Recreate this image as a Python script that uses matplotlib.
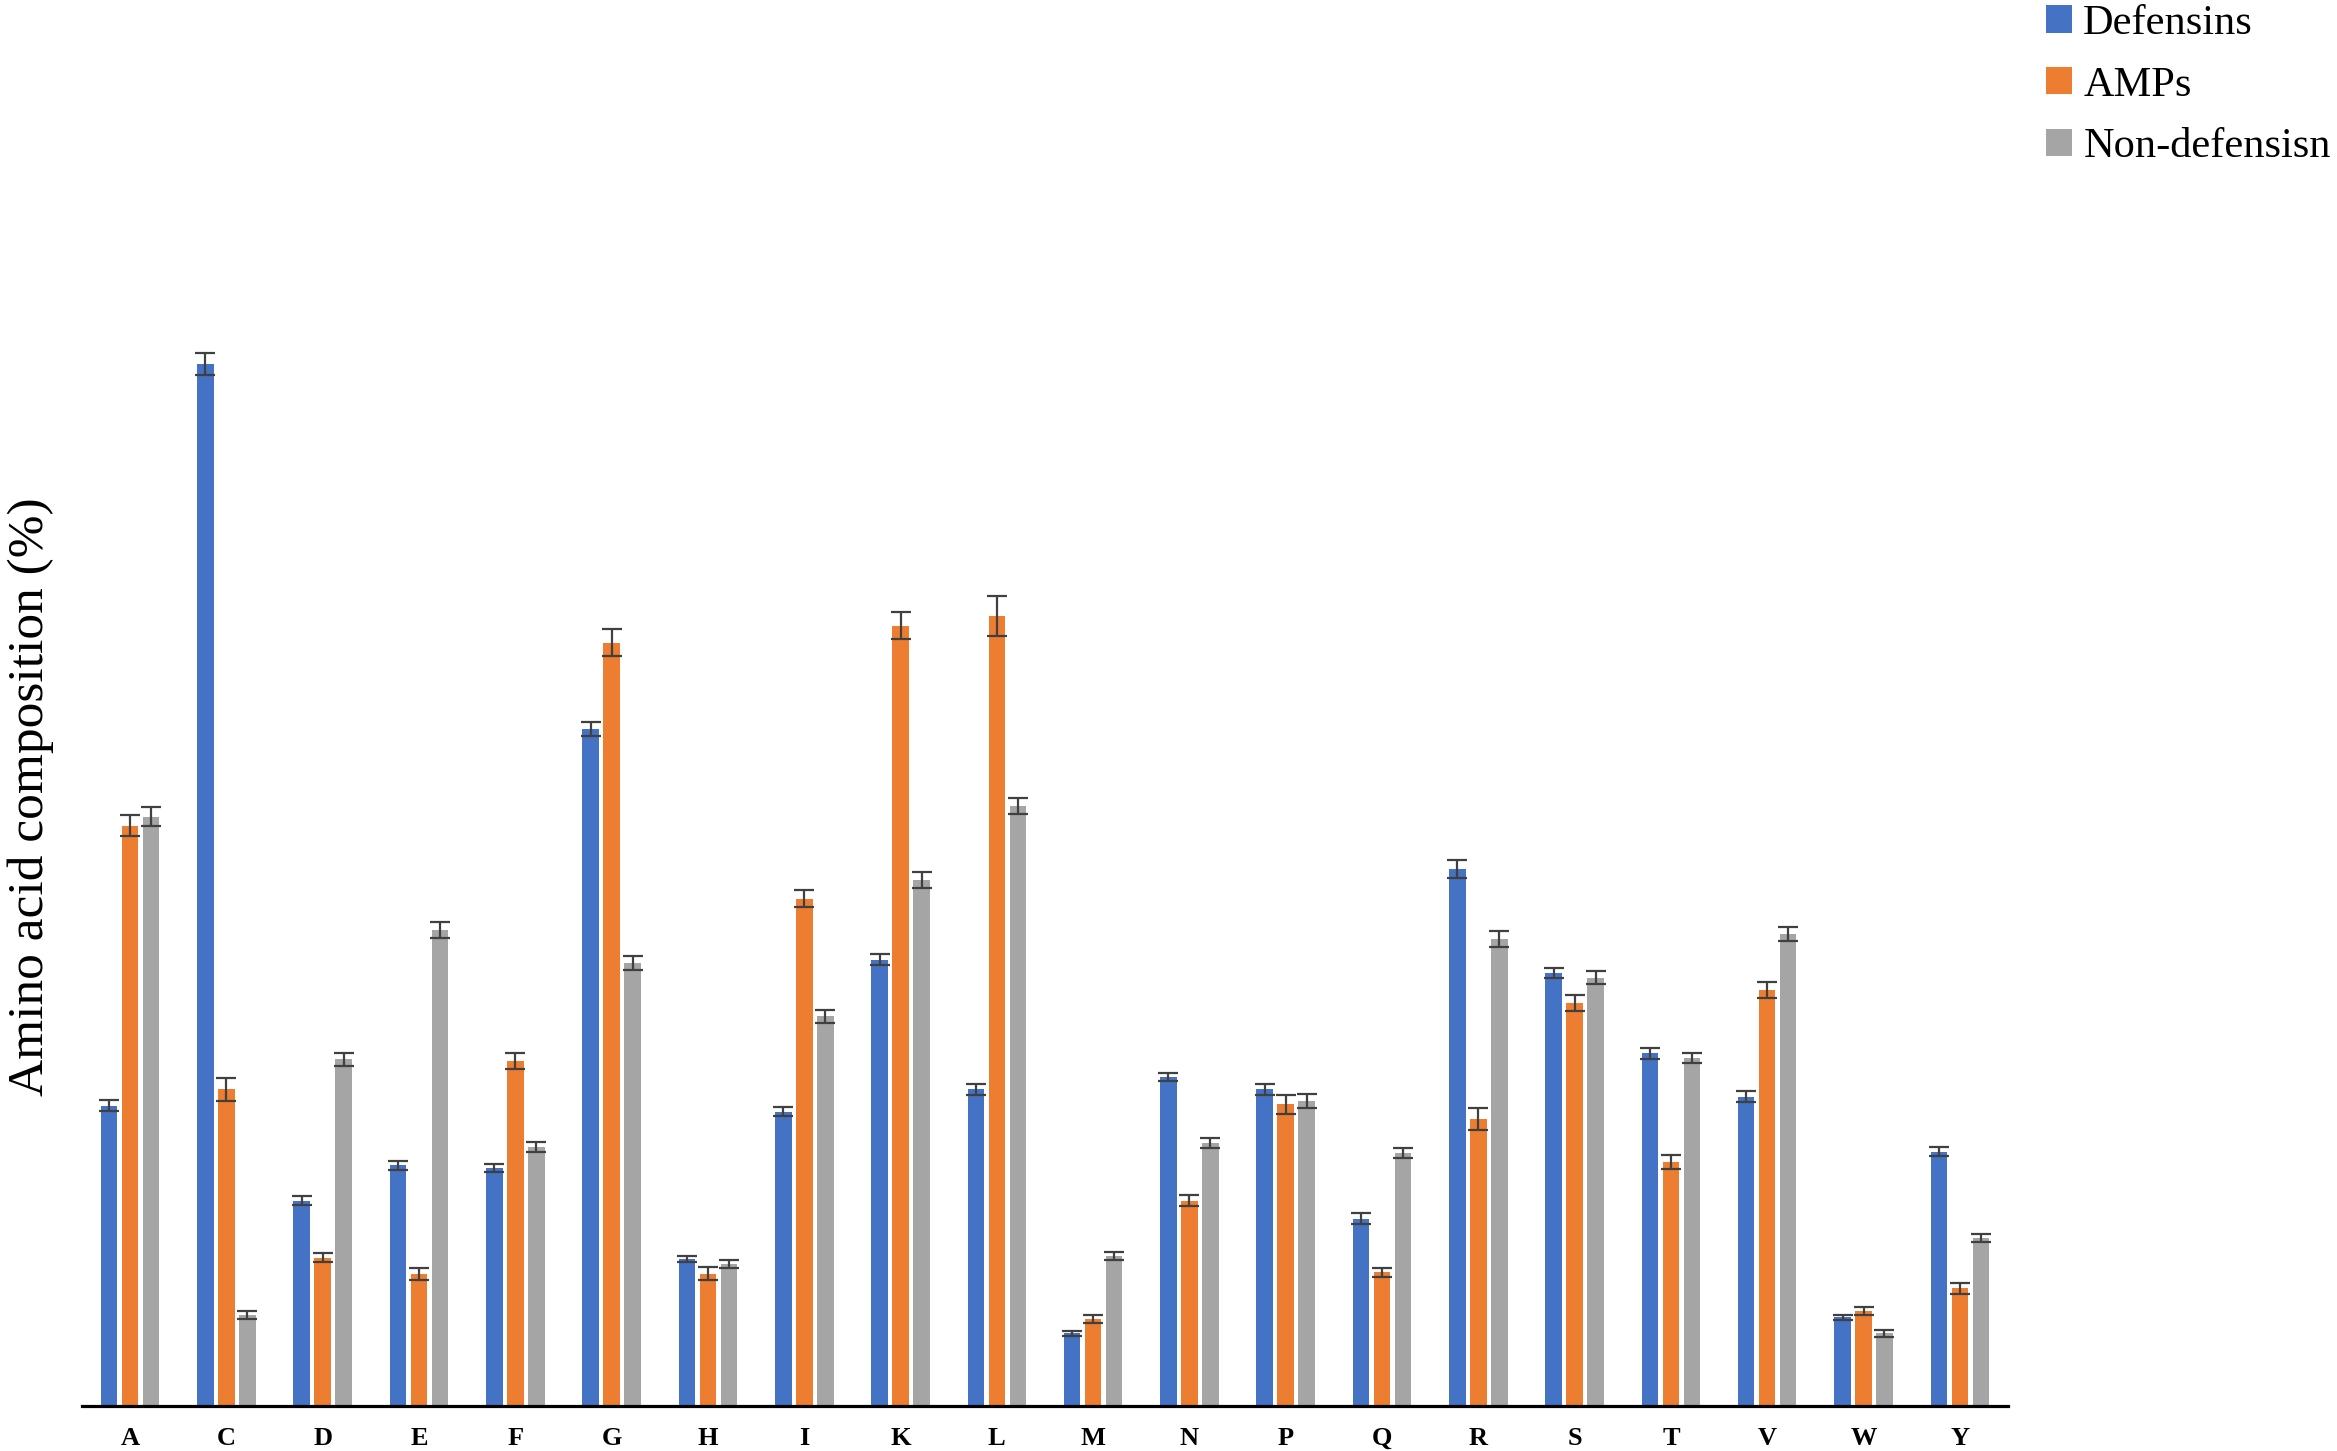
import numpy as np
import matplotlib
matplotlib.use("Agg")
import matplotlib.pyplot as plt

residues = ["A", "C", "D", "E", "F", "G", "H", "I", "K", "L",
            "M", "N", "P", "Q", "R", "S", "T", "V", "W", "Y"]
series_names = ["Defensins", "AMPs", "Non-defensisn"]

defensins = [4.48, 15.55, 3.06, 3.59, 3.55, 10.10, 2.19, 4.39, 6.66, 4.72,
             1.08, 4.90, 4.72, 2.79, 8.01, 6.46, 5.26, 4.61, 1.32, 3.79]
amps = [8.66, 4.72, 2.21, 1.97, 5.15, 11.39, 1.97, 7.57, 11.64, 11.79,
        1.30, 3.06, 4.50, 1.99, 4.28, 6.01, 3.64, 6.21, 1.41, 1.75]
non_defensins = [8.79, 1.35, 5.17, 7.10, 3.86, 6.61, 2.12, 5.81, 7.84, 8.95,
                 2.24, 3.92, 4.55, 3.77, 6.97, 6.39, 5.19, 7.04, 1.08, 2.50]

defensins_err = [0.08, 0.16, 0.07, 0.07, 0.06, 0.10, 0.05, 0.07, 0.08, 0.08,
                 0.04, 0.06, 0.08, 0.08, 0.14, 0.08, 0.08, 0.08, 0.04, 0.07]
amps_err = [0.15, 0.17, 0.07, 0.09, 0.12, 0.20, 0.10, 0.12, 0.20, 0.30,
            0.06, 0.08, 0.14, 0.07, 0.16, 0.12, 0.10, 0.12, 0.06, 0.08]
non_defensins_err = [0.14, 0.06, 0.10, 0.12, 0.07, 0.10, 0.06, 0.10, 0.12, 0.12,
                     0.06, 0.08, 0.10, 0.08, 0.12, 0.10, 0.08, 0.10, 0.05, 0.06]

colors = ["#4472C4", "#ED7D31", "#A5A5A5"]

fig = plt.figure(figsize=(23.37, 14.51), dpi=100)
ax = fig.add_axes([0.0351, 0.0312, 0.8241, 0.7388])

x = np.arange(len(residues))
width = 0.172
offsets = [-0.218, 0.0, 0.218]
values = [defensins, amps, non_defensins]
errors = [defensins_err, amps_err, non_defensins_err]

handles = []
for vals, errs, off, col, name in zip(values, errors, offsets, colors, series_names):
    b = ax.bar(x + off, vals, width, color=col, label=name, zorder=2,
               yerr=errs, error_kw=dict(ecolor="#404040", elinewidth=1.6,
                                        capsize=7.5, capthick=1.6))
    handles.append(b)

ax.set_xlim(-0.5, len(residues) - 0.5)
ax.set_ylim(0, 16)
ax.set_xticks(x)
ax.set_xticklabels(residues, fontfamily="Liberation Serif", fontweight="bold", fontsize=19)
ax.tick_params(axis="x", length=0, pad=15)
ax.set_yticks([])
for side in ["top", "right", "left"]:
    ax.spines[side].set_visible(False)
ax.spines["bottom"].set_linewidth(2.3)

fig.text(0.013, 0.451, "Amino acid composition (%)", rotation=90,
         fontfamily="Liberation Serif", fontsize=37, va="center", ha="center")

fig.legend(handles=handles, labels=series_names, loc="upper left",
           bbox_to_anchor=(2046 / 2337, 0.997), frameon=False,
           prop={"family": "Liberation Serif", "size": 30.5},
           handlelength=0.62, handleheight=0.62, handletextpad=0.26,
           labelspacing=0.55, borderpad=0, borderaxespad=0)

plt.savefig("out.png", dpi=100)
